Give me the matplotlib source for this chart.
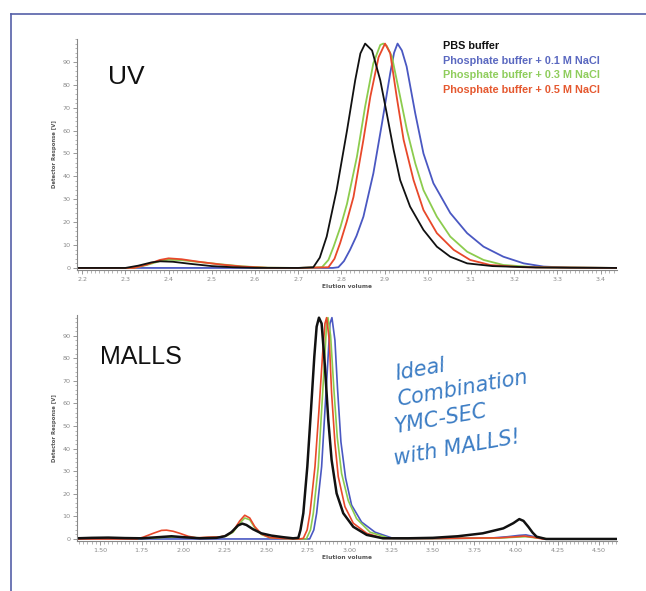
import matplotlib
matplotlib.use("Agg")
import matplotlib.pyplot as plt
from matplotlib.ticker import MultipleLocator, FormatStrFormatter
from matplotlib.lines import Line2D

# ---------------- data ----------------
series_names = ["PBS buffer",
                "Phosphate buffer + 0.1 M NaCl",
                "Phosphate buffer + 0.3 M NaCl",
                "Phosphate buffer + 0.5 M NaCl"]

# UV panel
uv_black_x = [2.188, 2.30, 2.33, 2.36, 2.38, 2.41, 2.45, 2.50, 2.55, 2.60, 2.70, 2.735, 2.75, 2.766, 2.789,
              2.813, 2.832, 2.844, 2.855, 2.871, 2.890, 2.905, 2.921, 2.936, 2.959, 2.990, 3.021, 3.052,
              3.091, 3.15, 3.25, 3.438]
uv_black_y = [0, 0, 1.0, 2.4, 2.9, 2.7, 1.8, 0.8, 0.3, 0.05, 0, 0.3, 4.5, 13.7, 34,
              60, 82, 93.7, 98, 95, 82, 67.5, 51.5, 38.4, 26.8, 16.6, 9.3, 4.9,
              2.0, 0.8, 0.2, 0]

uv_blue_x = [2.188, 2.78, 2.793, 2.806, 2.820, 2.835, 2.851, 2.874, 2.894, 2.913, 2.922, 2.930, 2.940,
             2.951, 2.971, 2.990, 3.013, 3.052, 3.091, 3.129, 3.175, 3.222, 3.268, 3.33, 3.438]
uv_blue_y = [0, 0, 0.3, 3.0, 7.9, 14, 22.4, 41.3, 63.2, 85, 94, 98, 95,
             88, 67.5, 50, 37, 24, 15.2, 9.3, 4.9, 2.0, 0.6, 0.1, 0]

uv_green_x = [2.188, 2.32, 2.35, 2.38, 2.40, 2.43, 2.47, 2.52, 2.57, 2.63, 2.70, 2.755, 2.77, 2.782, 2.798,
              2.813, 2.836, 2.855, 2.874, 2.890, 2.897, 2.905, 2.917, 2.936, 2.952, 2.971, 2.990, 3.021,
              3.052, 3.091, 3.129, 3.175, 3.25, 3.438]
uv_green_y = [0, 0, 1.3, 3.0, 3.6, 3.4, 2.6, 1.6, 0.7, 0.1, 0, 0.3, 3.5, 9.3, 18,
              28, 48.6, 70.5, 89.4, 97.4, 98, 97, 92.3, 74.8, 60, 45.7, 34, 22.4,
              13.7, 7.1, 3.5, 1.3, 0.3, 0]

uv_red_x = [2.188, 2.32, 2.35, 2.38, 2.40, 2.43, 2.47, 2.52, 2.57, 2.63, 2.70, 2.770, 2.784, 2.797, 2.812,
            2.828, 2.851, 2.867, 2.886, 2.901, 2.913, 2.928, 2.944, 2.967, 2.990, 3.021, 3.060, 3.098,
            3.144, 3.22, 3.438]
uv_red_y = [0, 0, 1.5, 3.5, 4.2, 3.8, 2.7, 1.5, 0.6, 0.05, 0, 0.3, 4.0, 10.8, 20,
            31, 56, 74.8, 92, 98, 93.8, 74.8, 56, 38.4, 25.3, 15.2, 7.9, 3.5,
            1.3, 0.3, 0]

# MALLS panel
ma_black_x = [1.362, 1.45, 1.55, 1.65, 1.75, 1.85, 1.93, 2.00, 2.10, 2.20, 2.25, 2.29, 2.33, 2.355, 2.38,
              2.42, 2.47, 2.53, 2.60, 2.66, 2.692, 2.705, 2.722, 2.746, 2.768, 2.788, 2.802, 2.816, 2.832,
              2.852, 2.872, 2.892, 2.922, 2.962, 3.022, 3.103, 3.20, 3.35, 3.50, 3.65, 3.80, 3.924, 3.984,
              4.02, 4.045, 4.074, 4.10, 4.124, 4.18, 4.607]
ma_black_y = [0.3, 0.5, 0.6, 0.4, 0.3, 0.8, 1.2, 0.8, 0.3, 0.5, 1.2, 3.0, 6.0, 6.8, 6.2,
              4.3, 2.5, 1.5, 0.8, 0.3, 0.5, 4.0, 11.4, 32, 57, 80.7, 94, 98, 95.4,
              76.3, 52.7, 35, 20.2, 11.4, 5.4, 1.8, 0.3, 0.3, 0.5, 1.2, 2.5, 4.7, 7.0,
              8.8, 8.0, 5.4, 2.8, 1.0, 0, 0]

ma_blue_x = [1.362, 2.76, 2.785, 2.802, 2.832, 2.852, 2.872, 2.882, 2.894, 2.912, 2.928, 2.948, 2.976,
             3.012, 3.072, 3.153, 3.26, 3.50, 3.85, 3.95, 4.02, 4.06, 4.11, 4.17, 4.607]
ma_blue_y = [0, 0, 4.0, 11.4, 32, 57, 82, 95.4, 98, 88, 66, 43, 27,
             15, 7.5, 3.0, 0.3, 0.2, 0.4, 1.0, 1.6, 1.8, 1.0, 0, 0]

ma_green_x = [1.362, 1.80, 1.90, 2.00, 2.10, 2.20, 2.26, 2.30, 2.34, 2.37, 2.40, 2.43, 2.47, 2.52, 2.60,
              2.74, 2.765, 2.782, 2.812, 2.832, 2.852, 2.862, 2.870, 2.886, 2.906, 2.926, 2.952, 2.992,
              3.042, 3.123, 3.24, 3.50, 3.90, 4.00, 4.06, 4.12, 4.20, 4.607]
ma_green_y = [0.2, 0.3, 0.8, 0.8, 0.5, 0.7, 1.3, 3.0, 7.0, 9.3, 8.5, 5.0, 2.0, 0.6, 0.2,
              0, 4.0, 11.4, 32, 57, 82, 95.4, 98, 90, 66, 45, 29, 17,
              9, 3, 0.3, 0.2, 0.4, 0.8, 1.0, 0.5, 0, 0]

ma_red_x = [1.362, 1.72, 1.76, 1.82, 1.87, 1.90, 1.94, 1.98, 2.03, 2.08, 2.15, 2.22, 2.26, 2.30, 2.34,
            2.37, 2.40, 2.43, 2.47, 2.52, 2.60, 2.70, 2.722, 2.745, 2.762, 2.792, 2.816, 2.838, 2.852,
            2.862, 2.878, 2.892, 2.912, 2.932, 2.972, 3.022, 3.103, 3.20, 3.50, 3.90, 4.00, 4.05, 4.10,
            4.16, 4.607]
ma_red_y = [0, 0, 0.8, 2.5, 3.8, 3.9, 3.4, 2.5, 1.2, 0.5, 0.8, 0.9, 1.5, 3.5, 8.0,
            10.5, 9.3, 5.5, 2.2, 0.6, 0.2, 0, 0.3, 4.0, 11.4, 32, 57, 82, 95.4,
            98, 88, 64.6, 42.4, 27.6, 14.3, 7.0, 2.5, 0.3, 0.2, 0.5, 1.0, 1.3, 0.8,
            0, 0]

uv_xticks = [2.2, 2.3, 2.4, 2.5, 2.6, 2.7, 2.8, 2.9, 3.0, 3.1, 3.2, 3.3, 3.4]
ma_xticks = [1.50, 1.75, 2.00, 2.25, 2.50, 2.75, 3.00, 3.25, 3.50, 3.75, 4.00, 4.25, 4.50]
yticks = [0, 10, 20, 30, 40, 50, 60, 70, 80, 90]

# ---------------- style ----------------
C_BLACK = "#111111"
C_BLUE = "#4a58c2"
C_GREEN = "#8ccc4e"
C_RED = "#e8482a"
TXT_BLUE = "#5a68c0"
TXT_GREEN = "#8fcd5c"
TXT_RED = "#e5582f"

W, H = 646, 591
fig = plt.figure(figsize=(W / 100, H / 100), dpi=100)
fig.patch.set_facecolor("white")

# frame (left and top edges visible)
fig.add_artist(Line2D([11 / W, 11 / W], [0, 1 - 14 / H], color="#5560a8", lw=1.2,
                      transform=fig.transFigure))
fig.add_artist(Line2D([11 / W, 1], [1 - 14 / H, 1 - 14 / H], color="#5560a8", lw=1.2,
                      transform=fig.transFigure))


def px_axes(x0, x1, ytop, ybot):
    return fig.add_axes([x0 / W, 1 - ybot / H, (x1 - x0) / W, (ybot - ytop) / H])


def style_axes(ax, xlim, ylim, xticks, xfmt, xminor):
    ax.set_xlim(*xlim)
    ax.set_ylim(*ylim)
    for s in ["top", "right"]:
        ax.spines[s].set_visible(False)
    for s in ["left", "bottom"]:
        ax.spines[s].set_color("#888888")
        ax.spines[s].set_linewidth(0.8)
    ax.set_xticks(xticks)
    ax.xaxis.set_major_formatter(FormatStrFormatter(xfmt))
    ax.xaxis.set_minor_locator(MultipleLocator(xminor))
    ax.set_yticks(yticks)
    ax.yaxis.set_minor_locator(MultipleLocator(2))
    ax.tick_params(which="major", length=3.2, width=0.6, color="#888888",
                   labelsize=4.6, labelcolor="#8a8a8a", pad=1.5)
    ax.tick_params(which="minor", length=1.8, width=0.5, color="#999999")
    ax.set_ylabel("Detector Response [V]", fontsize=3.8, color="#555555",
                  fontweight="bold", labelpad=4)
    ax.set_xlabel("Elution volume", fontsize=4.2, color="#555555",
                  fontweight="bold", labelpad=1.5)
    ax.patch.set_alpha(0)


# UV panel
ax1 = px_axes(77, 617, 39, 270)
lw = 1.3
ax1.plot(uv_blue_x, uv_blue_y, color=C_BLUE, lw=lw)
ax1.plot(uv_green_x, uv_green_y, color=C_GREEN, lw=lw)
ax1.plot(uv_red_x, uv_red_y, color=C_RED, lw=lw)
ax1.plot(uv_black_x, uv_black_y, color=C_BLACK, lw=lw)
style_axes(ax1, (2.188, 3.438), (-0.9, 100), uv_xticks, "%.1f", 0.01)

# MALLS panel
ax2 = px_axes(77, 617, 315.4, 541)
ax2.plot(ma_blue_x, ma_blue_y, color=C_BLUE, lw=1.2)
ax2.plot(ma_green_x, ma_green_y, color=C_GREEN, lw=1.2)
ax2.plot(ma_red_x, ma_red_y, color=C_RED, lw=1.2)
ax2.plot(ma_black_x, ma_black_y, color=C_BLACK, lw=1.8)
style_axes(ax2, (1.362, 4.607), (-0.9, 99), ma_xticks, "%.2f", 0.025)

# panel titles
fig.text(108 / W, 1 - 77 / H, "UV", fontsize=19, family="Liberation Sans",
         color="#111111", va="center", ha="left")
fig.text(100 / W, 1 - 357 / H, "MALLS", fontsize=18, family="Liberation Sans",
         color="#111111", va="center", ha="left")

# legend text
leg_colors = [C_BLACK, TXT_BLUE, TXT_GREEN, TXT_RED]
leg_y = [46, 60.7, 75.4, 90]
for name, col, yy in zip(series_names, leg_colors, leg_y):
    fig.text(443 / W, 1 - yy / H, name, fontsize=7.8, family="Liberation Sans",
             fontweight="bold", color=col, va="center", ha="left")

# handwritten note
note_lines = ["Ideal", "Combination", "YMC-SEC", "with MALLS!"]
note_pos = [(396, 380), (398, 406), (396, 433), (395, 465)]
for t, (xx, yy) in zip(note_lines, note_pos):
    fig.text(xx / W, 1 - yy / H, t, fontsize=15, family="DejaVu Sans", style="italic",
             color="#3b7cc4", rotation=10, rotation_mode="anchor",
             ha="left", va="baseline")

fig.savefig("out.png", dpi=100, facecolor="white")
